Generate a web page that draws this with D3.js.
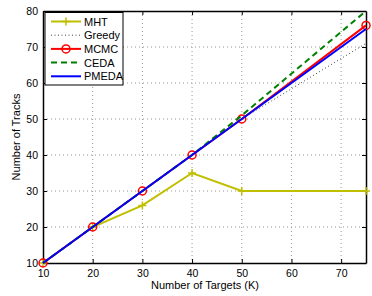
<!DOCTYPE html>
<html>
<head>
<meta charset="utf-8">
<script src="https://cdn.jsdelivr.net/npm/d3@7"></script>
<style>
  body { margin: 0; background: #fff; }
  text { font-family: "Liberation Sans", Arial, sans-serif; }
</style>
</head>
<body>
<svg id="chart"></svg>
<script>
// ----- Data -----
let targets = [10, 20, 30, 40, 50, 75]
let mht = [10, 20, 26, 35, 30, 30]
let greedy = [10, 20, 30, 40, 50, 71]
let mcmc = [10, 20, 30, 40, 50, 76]
let ceda = [10, 20, 30, 40, 51, 80]
let pmeda = [10, 20, 30, 40, 50, 75]
let xTicks = [10, 20, 30, 40, 50, 60, 70]
let yTicks = [10, 20, 30, 40, 50, 60, 70, 80]

let width = 372
let height = 296
let svg = d3.select('#chart').attr('width', width).attr('height', height)

let plotLeft = 43, plotRight = 366, plotTop = 11, plotBottom = 263

let x = d3.scaleLinear().domain([10, 75]).range([plotLeft, plotRight])
let y = d3.scaleLinear().domain([10, 80]).range([plotBottom, plotTop])

// grid
let grid = svg.append('g')
grid.selectAll('.gx').data(xTicks.slice(1)).enter().append('line')
    .attr('x1', d => x(d)).attr('x2', d => x(d))
    .attr('y1', plotTop).attr('y2', plotBottom)
    .attr('stroke', '#999').attr('stroke-width', 1).attr('stroke-dasharray', '1,3')
grid.selectAll('.gy').data(yTicks.slice(1, -1)).enter().append('line')
    .attr('x1', plotLeft).attr('x2', plotRight)
    .attr('y1', d => y(d)).attr('y2', d => y(d))
    .attr('stroke', '#999').attr('stroke-width', 1).attr('stroke-dasharray', '1,3')

// axes (ticks inside)
svg.append('g').attr('transform', 'translate(0,' + plotBottom + ')')
    .call(d3.axisBottom(x).tickValues(xTicks).tickSizeInner(-4).tickSizeOuter(0).tickPadding(7))
svg.append('g').attr('transform', 'translate(0,' + plotTop + ')')
    .call(d3.axisTop(x).tickValues(xTicks).tickSizeInner(-4).tickSizeOuter(0).tickFormat(''))
svg.append('g').attr('transform', 'translate(' + plotLeft + ',0)')
    .call(d3.axisLeft(y).tickValues(yTicks).tickSizeInner(-4).tickSizeOuter(0).tickPadding(5))
svg.append('g').attr('transform', 'translate(' + plotRight + ',0)')
    .call(d3.axisRight(y).tickValues(yTicks).tickSizeInner(-4).tickSizeOuter(0).tickFormat(''))

svg.selectAll('.domain').attr('stroke', '#000').attr('stroke-width', 1.5)
svg.selectAll('.tick line').attr('stroke', '#000')
svg.selectAll('.tick text').attr('font-size', '10.5px').attr('fill', '#000')
    .attr('font-family', '"Liberation Sans", Arial, sans-serif')

// axis labels
svg.append('text')
    .attr('x', 205).attr('y', 288.5)
    .attr('text-anchor', 'middle').attr('font-size', '11px')
    .text('Number of Targets (K)')
svg.append('text')
    .attr('transform', 'translate(20,' + ((plotTop + plotBottom) / 2) + ') rotate(-90)')
    .attr('text-anchor', 'middle').attr('font-size', '11px')
    .text('Number of Tracks')

// series
let series = [
    {name: 'MHT', values: mht, color: '#bfbf00', width: 2, dash: null, marker: 'plus'},
    {name: 'Greedy', values: greedy, color: '#444', width: 1, dash: '1,2.5', marker: null},
    {name: 'MCMC', values: mcmc, color: '#ff0000', width: 2, dash: null, marker: 'circle'},
    {name: 'CEDA', values: ceda, color: '#008000', width: 2, dash: '6,4', marker: null},
    {name: 'PMEDA', values: pmeda, color: '#0000ff', width: 2, dash: null, marker: null}
]

let line = d3.line().x((d, i) => x(targets[i])).y(d => y(d))
let plot = svg.append('g')

function drawMarker(g, type, cx, cy, color) {
    if (type === 'plus') {
        g.append('path')
            .attr('d', 'M' + (cx - 4) + ',' + cy + 'H' + (cx + 4) + 'M' + cx + ',' + (cy - 4) + 'V' + (cy + 4))
            .attr('stroke', color).attr('stroke-width', 1.5).attr('fill', 'none')
    } else if (type === 'circle') {
        g.append('circle').attr('cx', cx).attr('cy', cy).attr('r', 4)
            .attr('stroke', color).attr('stroke-width', 1.5).attr('fill', 'none')
    }
}

series.forEach(s => {
    plot.append('path')
        .attr('d', line(s.values))
        .attr('fill', 'none')
        .attr('stroke', s.color)
        .attr('stroke-width', s.width)
        .attr('stroke-dasharray', s.dash)
    if (s.marker) {
        s.values.forEach((v, i) => drawMarker(plot, s.marker, x(targets[i]), y(v), s.color))
    }
})

// legend
let legend = svg.append('g')
legend.append('rect')
    .attr('x', 45).attr('y', 12.5).attr('width', 78).attr('height', 72.5)
    .attr('fill', '#fff').attr('stroke', '#000').attr('stroke-width', 1)

series.forEach((s, i) => {
    let ly = 21.5 + i * 13.7
    legend.append('line')
        .attr('x1', 51).attr('x2', 81).attr('y1', ly).attr('y2', ly)
        .attr('stroke', s.color).attr('stroke-width', s.width)
        .attr('stroke-dasharray', s.dash)
    if (s.marker) drawMarker(legend, s.marker, 66, ly, s.color)
    legend.append('text')
        .attr('x', 84).attr('y', ly + 4)
        .attr('font-size', '11px')
        .text(s.name)
})
</script>
</body>
</html>
